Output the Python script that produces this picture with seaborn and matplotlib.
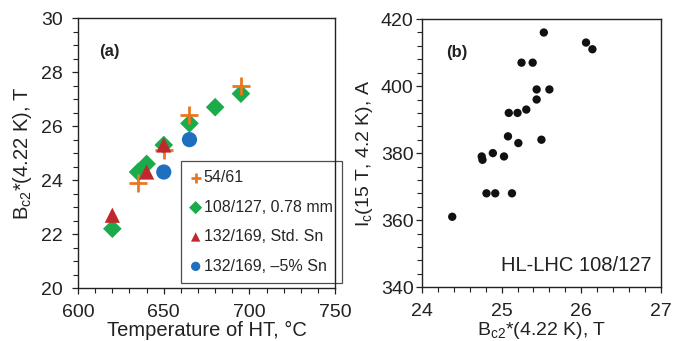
import numpy as np
import pandas as pd
import matplotlib
matplotlib.use('Agg')
import matplotlib.pyplot as plt
import seaborn as sns
from matplotlib.ticker import MultipleLocator

sns.set_style("white")
plt.rcParams['font.family'] = ['Liberation Sans', 'DejaVu Sans']
plt.rcParams['mathtext.fontset'] = 'custom'
plt.rcParams['mathtext.rm'] = 'Liberation Sans'

# panel (a): Bc2* vs heat treatment temperature
t_5461 = [635, 650, 665, 695]
b_5461 = [23.9, 25.1, 26.4, 27.5]
t_108 = [620, 635, 640, 650, 665, 680, 695]
b_108 = [22.2, 24.3, 24.6, 25.3, 26.1, 26.7, 27.2]
t_132std = [620, 640, 650]
b_132std = [22.7, 24.3, 25.3]
t_132low = [650, 665]
b_132low = [24.3, 25.5]

# panel (b): Ic vs Bc2* for HL-LHC 108/127
bc2_hl = [25.53, 26.06, 26.14, 25.25, 25.39, 25.44, 25.60, 25.44, 25.31, 25.09, 25.20,
          25.08, 25.21, 25.50, 24.89, 24.75, 24.76, 25.03, 24.81, 24.92, 25.13, 24.38]
ic_hl = [416, 413, 411, 407, 407, 399, 399, 396, 393, 392, 392,
         385, 383, 384, 380, 379, 378, 379, 368, 368, 368, 361]

fig = plt.figure(figsize=(6.73, 3.41), dpi=100)
ax1 = fig.add_axes([0.116, 0.155, 0.382, 0.792])
ax2 = fig.add_axes([0.627, 0.158, 0.355, 0.786])

sns.scatterplot(x=t_5461, y=b_5461, ax=ax1, marker='+', s=170, color='#e87722',
                linewidth=2, label='54/61', zorder=4)
sns.scatterplot(x=t_108, y=b_108, ax=ax1, marker='D', s=90, color='#1aab4b',
                edgecolor='none', label='108/127, 0.78 mm', zorder=3)
sns.scatterplot(x=t_132std, y=b_132std, ax=ax1, marker='^', s=120, color='#c1272d',
                edgecolor='none', label='132/169, Std. Sn', zorder=4)
sns.scatterplot(x=t_132low, y=b_132low, ax=ax1, marker='o', s=120, color='#1f6fbf',
                edgecolor='none', label='132/169, \u20135% Sn', zorder=4)

ax1.set_xlim(600, 750)
ax1.set_ylim(20, 30)
ax1.xaxis.set_major_locator(MultipleLocator(50))
ax1.xaxis.set_minor_locator(MultipleLocator(10))
ax1.yaxis.set_major_locator(MultipleLocator(2))
ax1.yaxis.set_minor_locator(MultipleLocator(0.5))
ax1.set_xlabel('Temperature of HT, \u00b0C', fontsize=14.5, labelpad=0, color='#222222')
ax1.set_ylabel(r'B$_{\rm c2}$*(4.22 K), T', fontsize=14.5, labelpad=5, color='#222222')
ax1.text(0.08, 0.86, '(a)', transform=ax1.transAxes, fontsize=12, fontweight='bold',
         color='#222222')
leg = ax1.legend(loc='lower right', bbox_to_anchor=(1.027, 0.0185), borderaxespad=0,
                 fontsize=11.5, frameon=True, fancybox=False, edgecolor='#222222',
                 handletextpad=0.2, borderpad=0.6, labelspacing=0.9, handlelength=0.6,
                 scatterpoints=1)
leg.get_frame().set_linewidth(0.9)
leg.set_zorder(2)
for h in leg.legend_handles:
    h.set_sizes([45])

sns.scatterplot(x=bc2_hl, y=ic_hl, ax=ax2, marker='o', s=36, color='#111111',
                edgecolor='none', legend=False)
ax2.set_xlim(24, 27)
ax2.set_ylim(340, 420)
ax2.xaxis.set_major_locator(MultipleLocator(1))
ax2.xaxis.set_minor_locator(MultipleLocator(0.2))
ax2.yaxis.set_major_locator(MultipleLocator(20))
ax2.yaxis.set_minor_locator(MultipleLocator(4))
ax2.set_xlabel(r'B$_{\rm c2}$*(4.22 K), T', fontsize=14, labelpad=0, color='#222222')
ax2.set_ylabel(r'I$_{\rm c}$(15 T, 4.2 K), A', fontsize=14, labelpad=4, color='#222222')
ax2.text(0.1, 0.86, '(b)', transform=ax2.transAxes, fontsize=12, fontweight='bold',
         color='#222222')
ax2.text(0.96, 0.06, 'HL-LHC 108/127', transform=ax2.transAxes, fontsize=14.5,
         ha='right', color='#222222')

for ax in (ax1, ax2):
    for sp in ax.spines.values():
        sp.set_color('#222222')
        sp.set_linewidth(1.0)
    ax.tick_params(which='both', direction='out', bottom=True, left=True,
                   colors='#222222', labelsize=14)
    ax.tick_params(which='major', length=4.5, width=0.9)
    ax.tick_params(which='minor', length=3.5, width=0.8)
    ax.tick_params(axis='x', which='major', pad=7)

ax1.tick_params(axis='y', which='major', pad=6.5)
ax2.tick_params(axis='y', which='major', pad=1.5)

fig.savefig('out.png', dpi=100)
